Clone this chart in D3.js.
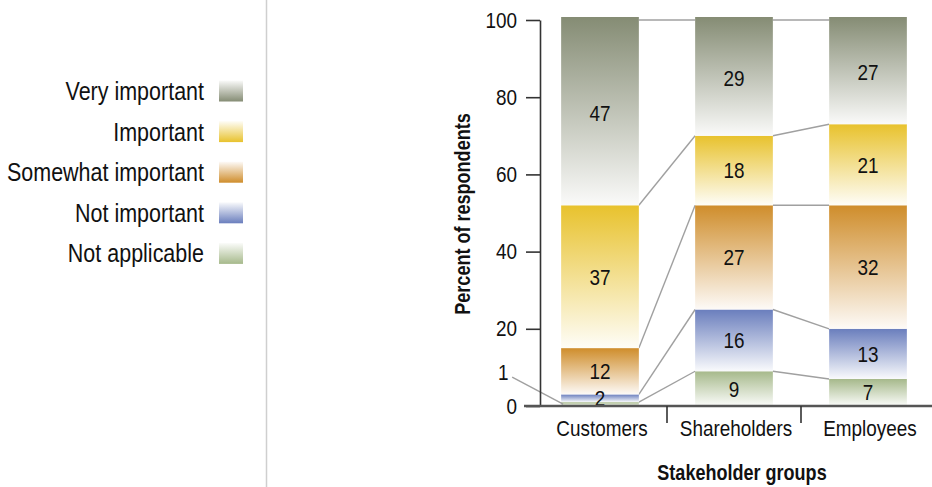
<!DOCTYPE html>
<html>
<head>
<meta charset="utf-8">
<script src="https://cdn.jsdelivr.net/npm/d3@7"></script>
<style>
  html, body { margin: 0; padding: 0; background: #fff; }
  svg text { font-family: "Liberation Sans", Arial, sans-serif; fill: #111; }
</style>
</head>
<body>
<svg id="chart" width="932" height="487"></svg>
<script>
// ---- data ----
const categories = ["Customers", "Shareholders", "Employees"];
const seriesNames = ["Not applicable", "Not important", "Somewhat important", "Important", "Very important"];
const notApplicable     = [1, 9, 7];
const notImportant      = [2, 16, 13];
const somewhatImportant = [12, 27, 32];
const important         = [37, 18, 21];
const veryImportant     = [47, 29, 27];
const yTicks = [0, 20, 40, 60, 80, 100];
const seriesColors = ["#a6b98b", "#6a7ebd", "#cf8d2b", "#e8c22d", "#858c74"];
const yTitle = "Percent of respondents";
const xTitle = "Stakeholder groups";

const seriesValues = [notApplicable, notImportant, somewhatImportant, important, veryImportant];
const rows = categories.map((c, i) => {
  const r = { category: c };
  seriesNames.forEach((s, k) => r[s] = seriesValues[k][i]);
  return r;
});

const SX = 0.86;   // condensed look, regular text
const SXB = 0.82;  // condensed look, bold titles
const svg = d3.select("#chart");
const defs = svg.append("defs");

function txt(x, y, str, opts = {}) {
  const sx = opts.bold ? SXB : SX;
  const t = svg.append("text")
    .attr("transform", `translate(${x},${y}) ${opts.rotate ? "rotate(" + opts.rotate + ")" : ""} scale(${sx},1)`)
    .attr("text-anchor", opts.anchor || "middle")
    .attr("font-size", opts.size || 22)
    .attr("dy", opts.dy || null)
    .text(str);
  if (opts.bold) t.attr("font-weight", "bold");
  return t;
}

// scales
const x = d3.scaleBand().domain(categories).range([533, 935]).paddingInner(0.42).paddingOuter(0.21);
const y = d3.scaleLinear().domain([0, 100]).range([406, 20]);
const color = d3.scaleOrdinal().domain(seriesNames).range(seriesColors);

// gradients
seriesNames.forEach((s, k) => {
  const c = d3.color(color(s));
  const light = d3.interpolateRgb(c, "#ffffff")(0.96);
  const g = defs.append("linearGradient").attr("id", "bar" + k)
    .attr("x1", 0).attr("y1", 0).attr("x2", 0).attr("y2", 1);
  g.append("stop").attr("offset", "0%").attr("stop-color", c.formatHex());
  g.append("stop").attr("offset", "100%").attr("stop-color", light);
  const gl = defs.append("linearGradient").attr("id", "leg" + k)
    .attr("x1", 0).attr("y1", 0).attr("x2", 0).attr("y2", 1);
  gl.append("stop").attr("offset", "0%").attr("stop-color", light);
  gl.append("stop").attr("offset", "100%").attr("stop-color", c.formatHex());
});

// stack (percentages: the top group fills to 100 because the rounded values do not sum exactly)
const stacked = d3.stack().keys(seriesNames)(rows);
stacked[stacked.length - 1].forEach(d => d[1] = 100);

// divider line
svg.append("line").attr("x1", 266.5).attr("x2", 266.5).attr("y1", 0).attr("y2", 487)
  .attr("stroke", "#cfcfcf").attr("stroke-width", 1.5);

// connector lines between adjacent bars at each segment top
stacked.forEach((layer) => {
  for (let i = 0; i < categories.length - 1; i++) {
    const a = layer[i], b = layer[i + 1];
    svg.append("line")
      .attr("x1", x(categories[i]) + x.bandwidth())
      .attr("y1", y(a[1]))
      .attr("x2", x(categories[i + 1]))
      .attr("y2", y(b[1]))
      .attr("stroke", "#a0a0a0").attr("stroke-width", 1.4);
  }
});

// bars
const layers = svg.append("g").selectAll("g").data(stacked).join("g")
  .attr("fill", (d, k) => `url(#bar${k})`);
layers.selectAll("rect").data(d => d).join("rect")
  .attr("x", d => x(d.data.category))
  .attr("width", x.bandwidth())
  .attr("y", d => y(d[1]) - (d[1] >= 100 ? 3 : 0))
  .attr("height", d => y(d[0]) - y(d[1]) + (d[1] >= 100 ? 3 : 0));

// value labels
stacked.forEach((layer) => {
  const key = layer.key;
  layer.forEach(d => {
    const v = d.data[key];
    const cx = x(d.data.category) + x.bandwidth() / 2;
    const cy = (y(d[0]) + y(d[1])) / 2;
    if (v < 2) {
      const lx = x(d.data.category) - 58, ly = cy - 32;
      svg.append("line").attr("x1", lx + 9).attr("y1", ly + 5)
        .attr("x2", x(d.data.category) + 2).attr("y2", cy)
        .attr("stroke", "#a0a0a0").attr("stroke-width", 1.4);
      txt(lx, ly, v, { dy: "0.36em" });
    } else {
      txt(cx, cy, v, { dy: "0.36em" });
    }
  });
});

// y axis
const yAxis = svg.append("g").attr("transform", "translate(540,0)")
  .call(d3.axisLeft(y).tickValues(yTicks).tickSize(14).tickSizeOuter(0).tickPadding(9));
yAxis.select(".domain").attr("stroke", "#333").attr("stroke-width", 1.6);
yAxis.selectAll(".tick line").attr("stroke", "#333").attr("stroke-width", 1.6);
yAxis.selectAll(".tick text")
  .attr("font-size", 22).attr("font-family", null).attr("fill", "#111")
  .attr("x", -23 / SX).attr("transform", `scale(${SX},1)`);

// x axis baseline and separators
svg.append("line").attr("x1", 524).attr("x2", 932).attr("y1", 406).attr("y2", 406)
  .attr("stroke", "#555").attr("stroke-width", 2.5);
const step = x.step();
categories.slice(1).forEach(c => {
  const tx = x(c) - step * x.paddingInner() / 2;
  svg.append("line").attr("x1", tx).attr("x2", tx).attr("y1", 406).attr("y2", 423)
    .attr("stroke", "#333").attr("stroke-width", 1.6);
});
categories.forEach(c => {
  txt(x(c) + x.bandwidth() / 2 + 2, 436, c);
});

// titles
txt(742, 480, xTitle, { size: 22, bold: true });
txt(470, 214, yTitle, { size: 22, bold: true, rotate: -90 });

// legend
const legendOrder = seriesNames.slice().reverse();
legendOrder.forEach((s, i) => {
  const k = seriesNames.indexOf(s);
  const cy = 91 + i * 40.6;
  svg.append("rect").attr("x", 219).attr("y", cy - 10.5).attr("width", 24).attr("height", 21)
    .attr("fill", `url(#leg${k})`);
  txt(204, cy, s, { anchor: "end", size: 25, dy: "0.36em" });
});
</script>
</body>
</html>
